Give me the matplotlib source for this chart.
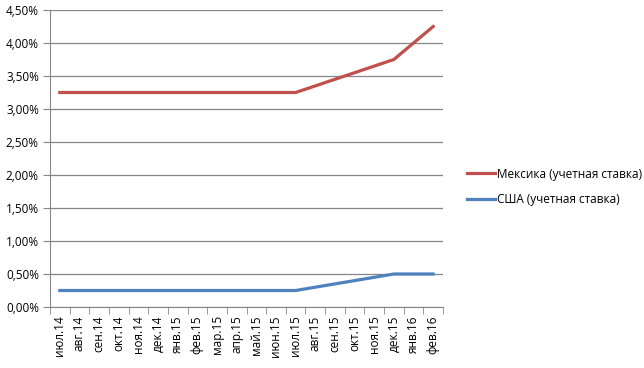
import numpy as np
import matplotlib.pyplot as plt
from matplotlib.ticker import FuncFormatter, FixedLocator

months = ['июл.14', 'авг.14', 'сен.14', 'окт.14', 'ноя.14', 'дек.14',
          'янв.15', 'фев.15', 'мар.15', 'апр.15', 'май.15', 'июн.15',
          'июл.15', 'авг.15', 'сен.15', 'окт.15', 'ноя.15', 'дек.15',
          'янв.16', 'фев.16']
mexico = [3.25, 3.25, 3.25, 3.25, 3.25, 3.25, 3.25, 3.25, 3.25, 3.25,
          3.25, 3.25, 3.25, 3.35, 3.45, 3.55, 3.65, 3.75, 4.00, 4.25]
usa = [0.25, 0.25, 0.25, 0.25, 0.25, 0.25, 0.25, 0.25, 0.25, 0.25,
       0.25, 0.25, 0.25, 0.30, 0.35, 0.40, 0.45, 0.50, 0.50, 0.50]
series_names = ['Мексика (учетная ставка)', 'США (учетная ставка)']

plt.rcParams['font.family'] = ['Open Sans', 'DejaVu Sans']

fig = plt.figure(figsize=(6.44, 3.68), dpi=100)
ax = fig.add_axes([50 / 644, 61 / 368, 393 / 644, 297 / 368])

x = np.arange(len(months))
ax.plot(x, mexico, color='#C0504D', lw=2.3, label=series_names[0])
ax.plot(x, usa, color='#4F81BD', lw=2.3, label=series_names[1])

ax.set_xlim(-0.5, len(months) - 0.5)
ax.set_ylim(0, 4.5)
ax.set_yticks(np.arange(0, 4.51, 0.5))
ax.yaxis.set_major_formatter(FuncFormatter(lambda v, p: f'{v:.2f}%'.replace('.', ',')))
ax.grid(axis='y', color='#868686', lw=0.9)
ax.set_axisbelow(True)

ax.set_xticks(x)
ax.set_xticklabels(months, rotation=90)
ax.xaxis.set_minor_locator(FixedLocator(np.arange(-0.5, len(months), 1)))
ax.tick_params(axis='x', which='major', length=0, pad=6, labelsize=8.5)
ax.tick_params(axis='x', which='minor', length=5, color='#868686', direction='out')
ax.tick_params(axis='y', length=5, color='#868686', labelsize=8.5, pad=3)

for s in ['top', 'right']:
    ax.spines[s].set_visible(False)
for s in ['left', 'bottom']:
    ax.spines[s].set_color('#868686')

ax.legend(loc='center left', bbox_to_anchor=(1.035, 0.405), frameon=False,
          fontsize=8.5, handlelength=2.3, handletextpad=0.2, labelspacing=1.05)

fig.savefig('out.png', dpi=100)
